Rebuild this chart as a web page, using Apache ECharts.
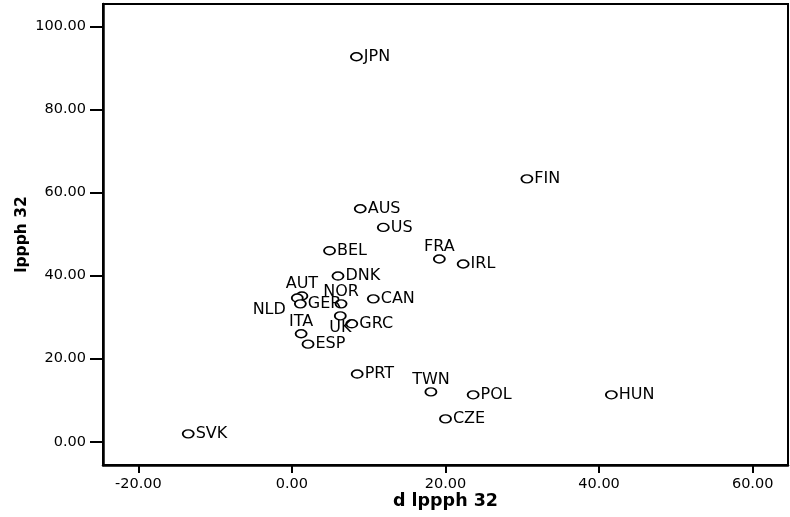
<!DOCTYPE html>
<html lang="en">
<head>
    <meta charset="UTF-8">
    <title>lppph 32</title>
    <script src="https://cdn.jsdelivr.net/npm/echarts@6/dist/echarts.min.js"></script>
    <style type="text/css">
        html,body{margin:0;padding:0;background:#fff;}
        #main{width:790px;height:517px;}
    </style>
</head>
<body>
<div id="main"></div>
<script>
    // values
    var countries = ['JPN','FIN','AUS','US','BEL','FRA','IRL','DNK','AUT','NLD','GER','NOR',
                     'CAN','UK','GRC','ITA','ESP','PRT','TWN','POL','CZE','SVK','HUN'];
    var dLppph = [8.4, 30.6, 8.9, 11.9, 4.9, 19.2, 22.3, 6.0, 1.3, 0.7, 1.1, 6.4,
                  10.6, 6.3, 7.8, 1.2, 2.1, 8.5, 18.1, 23.6, 20.0, -13.5, 41.6];
    var lppph = [92.7, 63.3, 56.1, 51.6, 46.0, 44.0, 42.8, 39.9, 35.1, 34.6, 33.2, 33.2,
                 34.4, 30.3, 28.4, 26.0, 23.5, 16.3, 12.0, 11.3, 5.5, 1.9, 11.3];
    var xTicks = [-20, 0, 20, 40, 60];
    var yTicks = [0, 20, 40, 60, 80, 100];

    // where a label sits when it is not to the right of its marker
    var labelSide = {FRA:'top', TWN:'top', AUT:'top', NOR:'top', ITA:'top', UK:'bottom', NLD:'left'};

    var points = countries.map(function (c, i) {
        var item = {name: c, value: [dLppph[i], lppph[i]]};
        if (labelSide[c]) {
            item.label = {position: labelSide[c], distance: -1};
            if (c === 'NLD') item.label = {position: 'left', distance: 5, offset: [0, 12]};
        }
        return item;
    });

    var fmt = function (v) { return v.toFixed(2); };

    var myChart = echarts.init(document.getElementById('main'));
    var option = {
        animation: false,
        backgroundColor: '#fff',
        grid: {
            left: 103, right: 2, top: 4, bottom: 52,
            show: true, borderColor: '#000', borderWidth: 2
        },
        xAxis: {
            type: 'value',
            min: -24.6,
            max: 64.6,
            name: 'd lppph 32',
            nameLocation: 'middle',
            nameGap: 27,
            nameMoveOverlap: false,
            nameTextStyle: {fontFamily: 'DejaVu Sans', fontWeight: 'bold', fontSize: 17.5, color: '#000'},
            splitLine: {show: false},
            axisLine: {onZero: false, lineStyle: {color: '#000', width: 2.5}},
            axisTick: {customValues: xTicks, length: 8, lineStyle: {color: '#000', width: 2}},
            axisLabel: {customValues: xTicks, formatter: fmt, margin: 12,
                fontFamily: 'DejaVu Sans', fontSize: 14.5, color: '#000'}
        },
        yAxis: {
            type: 'value',
            min: -5.6,
            max: 105.4,
            name: 'lppph 32',
            nameLocation: 'middle',
            nameGap: 73,
            nameMoveOverlap: false,
            nameTextStyle: {fontFamily: 'DejaVu Sans', fontWeight: 'bold', fontSize: 15.5, color: '#000'},
            splitLine: {show: false},
            axisLine: {onZero: false, lineStyle: {color: '#000', width: 2.5}},
            axisTick: {customValues: yTicks, length: 13, lineStyle: {color: '#000', width: 2}},
            axisLabel: {customValues: yTicks, formatter: fmt, margin: 17,
                fontFamily: 'DejaVu Sans', fontSize: 14.5, color: '#000'}
        },
        series: [{
            type: 'scatter',
            symbol: 'circle',
            symbolSize: [11, 8],
            itemStyle: {color: '#fff', borderColor: '#000', borderWidth: 1.6, opacity: 1},
            label: {
                show: true,
                position: 'right',
                distance: 1,
                formatter: '{b}',
                fontFamily: 'DejaVu Sans',
                fontSize: 16,
                color: '#000'
            },
            data: points
        }]
    };

    myChart.setOption(option);
</script>
</body>
</html>
